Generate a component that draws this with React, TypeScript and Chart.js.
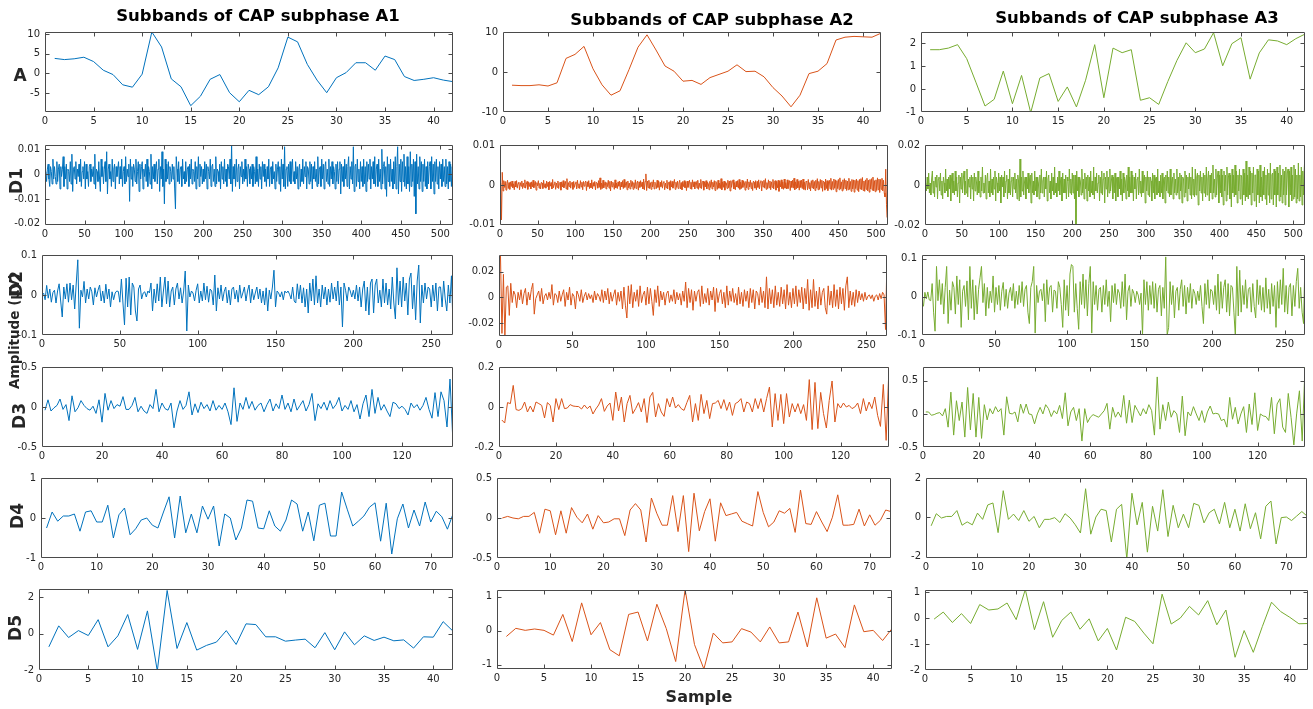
import React, { useEffect, useRef } from "react";
import { Chart, registerables } from "chart.js";
Chart.register(...registerables);

// ---------------- DATA ----------------
const TITLES = ["Subbands of CAP subphase A1", "Subbands of CAP subphase A2", "Subbands of CAP subphase A3"];
const ROW_LABELS = ["A", "D1", "D2", "D3", "D4", "D5"];
const Y_LABEL = "Amplitude (µV)";
const X_LABEL = "Sample";
const LENGTHS = [42, 516, 264, 137, 74, 42];

const X_TICKS_A = [0, 5, 10, 15, 20, 25, 30, 35, 40];
const X_TICKS_D1 = [0, 50, 100, 150, 200, 250, 300, 350, 400, 450, 500];
const X_TICKS_D2 = [0, 50, 100, 150, 200, 250];
const X_TICKS_D3 = [0, 20, 40, 60, 80, 100, 120];
const X_TICKS_D4 = [0, 10, 20, 30, 40, 50, 60, 70];
const X_TICKS_D5 = [0, 5, 10, 15, 20, 25, 30, 35, 40];

// Column 1 (A1)
const A1_A = [3.8,3.5,3.7,4.1,3.0,0.8,-0.3,-2.9,-3.5,-0.2,10.5,6.7,-1.4,-3.4,-8.2,-5.8,-1.5,-0.3,-4.9,-7.2,-4.3,-5.4,-3.4,1.4,9.2,8.0,2.3,-1.7,-4.9,-1.1,0.2,2.7,2.7,0.8,4.4,3.5,-0.8,-1.8,-1.5,-1.1,-1.7,-2.1];
const A1_D1 = [
.001,-.003,.002,.004,-.002,-.005,.003,.001,-.004,.006,-.002,.003,-.001,-.004,.005,-.003,.002,.004,-.006,.003,
-.001,.002,.007,-.005,.003,-.002,.004,-.006,.002,.001,-.003,.005,-.004,.008,-.007,.002,.003,-.002,.005,-.004,
.002,-.001,.004,-.003,.006,-.005,.001,.003,-.002,.005,-.006,.004,-.002,.001,-.005,.003,.004,-.003,.002,-.001,
.003,-.004,.008,-.006,.002,.001,-.003,.005,-.002,-.007,.006,-.001,.003,-.004,.002,.005,-.003,.009,-.008,.002,
.004,-.002,.001,-.005,.006,-.003,.002,.004,-.006,.003,-.001,.002,.005,-.004,.003,-.002,.006,-.005,.001,.003,
-.004,.007,-.003,.002,-.001,.004,-.011,.006,-.002,.003,-.005,.004,.002,-.003,.006,-.004,.001,.005,-.007,.004,
-.002,.003,.005,-.006,.002,-.001,.004,-.003,.006,-.005,.003,.001,-.004,.008,-.006,.003,-.002,.004,-.003,.002,
.005,-.004,.002,.006,-.007,.003,-.002,.009,-.005,.002,-.012,.006,-.003,.004,-.002,.005,-.004,.003,.001,-.003,
.004,-.002,.003,-.006,-.014,.007,.002,-.003,.005,-.004,.002,.003,-.005,.006,-.002,.001,-.004,.005,-.003,.002,
.003,-.005,.004,-.002,.006,-.004,.002,.001,-.003,.005,-.006,.003,-.002,.007,-.005,.004,-.001,.003,-.004,.002,
-.003,.005,-.002,.004,-.006,.003,.001,-.002,.006,-.005,.003,.004,-.003,.002,-.005,.007,-.004,.002,.001,-.003,
.004,-.006,.005,-.002,.003,-.004,.006,-.003,.002,-.005,.004,.003,-.002,.006,-.004,.012,-.007,.003,-.002,.004,
-.005,.006,-.003,.002,.004,-.006,.003,-.001,.005,-.004,.002,-.003,.006,-.002,.003,-.005,.004,.002,-.004,.003,
-.002,.004,-.005,.003,.001,-.004,.007,-.003,.002,-.005,.004,-.002,.003,-.006,.005,-.001,.004,-.003,.002,-.005,
.003,-.002,.006,-.005,.002,.003,-.004,.005,-.002,.001,-.006,.004,-.003,.002,.005,-.004,.003,-.007,.006,-.002,
.004,-.005,.011,-.006,.002,.003,-.005,.004,-.003,.005,-.004,.002,.006,-.003,.001,-.004,.005,-.002,.003,-.006,
.002,.004,-.005,.002,-.003,.006,-.004,.003,-.001,.005,-.006,.003,.002,-.004,.005,-.003,.004,-.006,.003,-.002,
.005,-.003,.002,-.005,.007,-.004,.002,.003,-.005,.006,-.002,.004,-.006,.003,.005,-.003,.002,-.004,.006,-.005,
.003,-.002,.005,-.004,.003,.001,-.006,.004,-.003,.005,-.004,.002,.005,-.008,.004,-.003,.003,-.005,.006,-.002,
.004,-.005,.003,.007,-.006,.003,-.002,.005,-.004,.011,-.007,.003,.004,-.005,.006,-.003,.002,-.006,.005,-.003,
.003,-.005,.006,-.004,.003,-.007,.005,-.003,.004,-.002,.006,-.006,.003,-.002,.005,-.004,.007,-.005,.002,.004,
-.005,.006,-.003,.002,-.006,.01,-.004,.003,.005,-.006,.003,-.009,.007,-.003,.004,-.005,.006,-.003,.002,-.006,
.005,-.004,.007,-.006,.003,.011,-.008,.004,-.003,.006,-.007,.005,-.003,.008,-.005,.003,-.006,.007,-.004,.003,
-.007,.009,-.005,.004,-.003,.006,-.009,.005,-.016,.008,-.004,.003,-.006,.007,-.003,.005,-.007,.004,-.003,.006,
-.005,.003,-.006,.005,-.004,.003,.005,-.006,.007,-.003,.004,-.008,.005,-.003,.006,-.004,.003,-.006,.005,-.002,
.004,-.005,.006,-.003,.003,-.005,.006,-.004,.003,-.006,.005,-.003,.004,-.005,.003,-.001];
const A1_D2 = [
.005,-.012,.024,-.008,.015,-.018,.006,.012,-.02,.01,.028,-.015,-.055,.02,-.01,.028,-.018,.03,-.012,.025,
-.035,.03,.088,-.083,.012,-.005,.034,-.02,.015,-.01,.02,.008,-.025,.018,-.005,.012,.025,-.015,.01,-.02,
.027,-.01,.015,-.03,.008,-.012,.005,.01,.009,-.018,.04,-.02,-.075,.042,-.03,.045,-.05,.03,.02,-.04,
-.065,.015,.025,-.01,.005,.008,-.005,.01,.005,.03,-.04,.015,-.02,.028,-.015,.045,-.03,.01,.045,-.022,
.035,-.03,.01,.02,-.025,.015,.03,-.01,.018,-.02,.01,.06,-.09,.025,-.005,.01,.005,-.015,.012,.028,
-.02,.01,-.015,.03,-.012,.022,-.018,.015,.01,-.025,.05,-.04,.018,-.01,.025,-.015,.008,.02,-.02,.012,
-.025,.015,.02,-.01,.012,-.018,.025,-.008,.005,.02,-.015,.01,.025,-.02,.015,-.012,.005,.02,-.01,.015,
-.02,.01,-.025,.018,-.04,.012,-.01,.02,.062,-.03,.01,.005,-.005,.008,-.012,.01,.005,.01,.002,-.01,
.02,-.015,-.02,.028,-.01,.025,-.02,.018,-.03,.015,-.045,.03,-.015,.04,-.025,.048,-.02,.015,-.03,.025,
-.01,.02,-.025,.015,-.018,.03,-.01,.02,-.015,.035,-.025,.02,-.08,.03,.012,-.015,.02,.01,-.005,.012,
-.01,.025,-.015,.02,-.03,.015,.035,-.04,.02,-.05,.03,.04,-.045,.025,.04,-.02,.012,-.03,.04,-.02,
.03,-.025,.015,-.035,.045,-.02,-.06,.068,-.025,.035,-.03,.045,-.015,.03,-.05,.04,.055,-.035,.025,-.062,
.035,.075,-.07,.025,-.02,.03,-.01,.02,.015,-.03,.025,-.015,.03,-.04,.02,.02,-.03,.035,-.01,-.04,
.025,-.02,.048,-.075];
const A1_D3 = [
-.04,.09,-.05,-.01,.02,.1,-.03,.03,-.17,.14,-.06,-.01,.08,.02,-.02,-.04,.01,-.08,.09,-.19,
.17,-.04,.08,-.02,.03,.01,.13,-.03,-.03,.02,.12,-.06,.01,-.05,-.08,.03,-.02,.22,-.06,.05,
-.02,-.04,.05,-.26,-.05,.08,-.03,.02,.19,-.1,.04,-.07,.06,-.02,.03,-.05,.08,-.04,.02,-.03,
.05,-.06,-.22,.24,-.18,.05,-.03,.12,-.02,.07,-.04,.02,.05,-.06,.03,.1,-.05,.04,-.02,.15,
-.03,.05,-.06,.1,-.04,.02,.08,-.05,.03,.17,-.17,.04,-.02,.06,-.04,.08,-.02,.03,.12,-.05,
.02,-.03,.08,-.06,.03,-.15,.04,.15,-.12,.22,-.08,.12,-.04,.03,-.05,-.12,.06,.04,-.02,.01,
-.03,-.1,.05,-.01,.03,-.04,.02,.12,-.03,-.14,.18,-.12,.19,.08,-.25,.35,-.46];
const A1_D4 = [-0.25,0.15,-0.08,0.05,0.05,0.1,-0.33,0.15,0.18,-0.1,-0.1,0.32,-0.5,0.08,0.25,-0.42,-0.27,-0.05,0.0,-0.18,-0.25,0.15,0.53,-0.5,0.55,-0.37,0.1,-0.37,0.3,-0.03,0.3,-0.7,0.1,0.0,-0.55,-0.25,0.45,0.42,-0.25,-0.27,0.18,-0.2,-0.33,-0.05,0.45,0.35,-0.33,0.15,-0.57,0.32,0.37,-0.45,-0.45,0.65,0.22,-0.2,-0.08,0.05,0.27,0.38,-0.58,0.37,-0.9,-0.02,0.35,-0.25,0.2,-0.2,0.4,-0.1,0.17,0.03,-0.28,0.1];
const A1_D5 = [-0.73,0.42,-0.22,0.16,-0.11,0.76,-0.73,-0.13,1.04,-0.87,1.24,-2.05,2.36,-0.82,0.6,-0.91,-0.65,-0.47,0.16,-0.6,0.53,0.49,-0.18,-0.18,-0.42,-0.36,-0.31,-0.78,0.05,-0.89,0.09,-0.62,-0.13,-0.38,-0.2,-0.4,-0.35,-0.8,-0.18,-0.2,0.65,0.13];

// Column 2 (A2)
const A2_A = [-3.3,-3.4,-3.4,-3.2,-3.5,-2.7,3.4,4.4,6.4,0.8,-3.2,-5.8,-4.7,0.6,6.2,9.3,5.5,1.5,0.2,-2.3,-2.1,-3.1,-1.4,-0.6,0.2,1.8,0.1,0.2,-1.2,-3.9,-6.0,-8.7,-5.8,-0.4,0.2,2.1,8.0,8.7,8.9,8.8,8.7,9.7];
const A2_D1 = [
.0005,-.0088,.0032,-.0015,.0011,-.0006,.0009,-.0013,.0004,.0012,-.0009,.0006,-.0011,.0008,-.0004,.0010,-.0007,.0003,-.0012,.0009,
-.0005,.0011,-.0008,.0004,.0007,-.0012,.0006,-.0003,.0010,-.0009,.0005,-.0006,.0013,-.0008,.0002,.0009,-.0011,.0007,-.0004,.0006,
-.0010,.0008,-.0005,.0012,-.0007,.0003,.0009,-.0013,.0006,-.0002,.0011,-.0008,.0004,-.0010,.0007,.0005,-.0009,.0012,-.0006,.0003,
-.0008,.0010,-.0004,.0007,-.0012,.0009,-.0003,.0006,-.0010,.0014,-.0007,.0002,.0008,-.0011,.0005,-.0006,.0010,-.0009,.0004,.0007,
-.0013,.0008,-.0005,.0011,-.0007,.0003,.0009,-.0010,.0016,-.0012,.0006,-.0004,.0010,-.0008,.0005,.0007,-.0011,.0009,-.0006,.0004,
.0008,-.0010,.0012,-.0007,.0003,-.0009,.0011,-.0005,.0007,-.0012,.0009,-.0003,.0006,.0010,-.0014,.0008,-.0004,.0011,-.0009,.0005,
-.0007,.0013,-.0010,.0006,-.0003,.0009,-.0012,.0007,.0004,-.0008,.0011,-.0006,.0018,-.0011,.0005,-.0009,.0012,-.0007,.0003,.0008,
-.0010,.0006,-.0004,.0012,-.0008,.0009,-.0015,.0010,-.0005,.0007,.0004,-.0011,.0013,-.0007,.0005,-.0009,.0008,-.0003,.0010,-.0012,
.0007,-.0005,.0011,-.0009,.0014,-.0006,.0003,.0008,-.0012,.0010,-.0007,.0005,-.0010,.0012,-.0004,.0009,-.0011,.0006,-.0008,.0013,
-.0009,.0005,.0010,-.0013,.0008,-.0006,.0011,-.0004,.0007,-.0010,.0015,-.0012,.0009,.0028,-.0014,.0010,-.0007,.0012,-.0009,.0006,
-.0011,.0008,-.0005,.0013,-.0010,.0007,.0004,-.0009,.0012,-.0006,.0010,-.0013,.0007,-.0004,.0011,-.0008,.0006,.0009,-.0012,.0005,
-.0007,.0012,-.0010,.0006,.0008,-.0013,.0011,-.0005,.0009,-.0008,.0004,.0014,-.0011,.0007,-.0006,.0010,-.0009,.0005,.0012,-.0010,
.0006,-.0012,.0009,-.0004,.0011,-.0007,.0008,-.0014,.0010,-.0006,.0005,.0012,-.0009,.0007,-.0011,.0013,-.0005,.0008,-.0010,.0006,
.0009,-.0008,.0012,-.0011,.0005,-.0007,.0014,-.0009,.0006,.0010,-.0013,.0008,-.0005,.0011,-.0010,.0007,.0004,-.0012,.0009,-.0006,
.0013,-.0010,.0007,-.0005,.0011,-.0014,.0009,.0006,-.0011,.0012,-.0008,.0005,-.0009,.0016,-.0012,.0008,-.0006,.0010,-.0013,.0007,
.0005,-.0009,.0012,-.0007,.0010,-.0015,.0011,-.0006,.0008,.0013,-.0010,.0006,-.0012,.0009,-.0005,.0011,-.0008,.0014,-.0011,.0007,
-.0009,.0012,-.0006,.0010,.0005,-.0013,.0009,-.0007,.0015,-.0011,.0008,-.0005,.0012,-.0009,.0006,-.0014,.0010,.0007,-.0008,.0011,
-.0012,.0009,-.0006,.0013,-.0010,.0007,.0011,-.0015,.0009,-.0005,.0012,-.0008,.0016,-.0011,.0006,-.0009,.0013,-.0007,.0010,-.0012,
.0008,-.0006,.0014,-.0010,.0007,.0011,-.0013,.0009,-.0007,.0012,-.0016,.0010,-.0005,.0013,-.0009,.0008,-.0011,.0015,-.0008,.0006,
-.0010,.0013,-.0009,.0007,.0011,-.0014,.0010,-.0006,.0012,-.0008,.0017,-.0012,.0008,-.0010,.0014,-.0007,.0009,-.0013,.0011,-.0006,
.0012,-.0009,.0015,-.0011,.0007,-.0013,.0010,.0008,-.0012,.0014,-.0009,.0006,-.0015,.0011,-.0007,.0013,-.0010,.0009,-.0014,.0012,
-.0008,.0016,-.0012,.0009,-.0011,.0014,-.0007,.0012,-.0016,.0010,.0007,-.0013,.0015,-.0009,.0011,-.0014,.0008,.0012,-.0010,.0017,
-.0013,.0009,-.0011,.0015,-.0008,.0013,-.0017,.0011,-.0009,.0014,-.0012,.0018,-.0010,.0008,-.0015,.0013,-.0011,.0016,-.0009,.0012,
-.0014,.0010,-.0012,.0017,-.0011,.0009,-.0016,.0014,-.0010,.0013,-.0018,.0012,-.0009,.0015,-.0013,.0011,-.0017,.0014,-.0010,.0016,
-.0012,.0019,-.0014,.0010,-.0016,.0013,-.0011,.0017,-.0015,.0012,-.0018,.0014,-.0010,.0016,-.0013,.0020,-.0015,.0011,-.0017,.0013,
-.0014,.0018,-.0012,.0015,-.0019,.0014,-.0011,.0017,-.0015,.0012,-.0020,-.0030,.0040,-.0050,-.0082,.0100];
const A2_D2 = [
.033,-.028,.018,-.03,.008,.009,-.014,.011,-.004,.005,.002,-.008,.004,-.002,.006,-.005,.003,.007,-.006,.004,
-.002,.006,.011,-.013,-.001,.002,.005,-.003,.007,-.005,.001,.003,-.002,.004,-.001,.01,-.006,.003,.002,-.004,
.005,-.003,.002,.006,-.007,.004,-.002,.008,-.006,.003,.001,-.009,.005,.002,-.003,.006,-.004,.001,.004,-.002,
.003,-.001,.002,-.004,.005,-.002,.003,.001,-.003,.006,-.004,.005,-.002,.007,-.005,.004,-.003,.002,.006,-.006,
.004,-.003,.005,-.009,.008,-.006,-.016,.009,-.005,.01,-.008,.004,-.003,.006,-.007,.009,-.004,.002,.005,-.006,
.008,-.005,.007,-.003,-.014,.006,-.004,.009,-.007,.005,-.002,.004,-.006,.003,.005,-.004,.002,-.003,.006,-.005,
.004,-.002,.003,-.006,.005,-.003,.012,-.008,.007,-.004,.006,-.01,.005,-.003,.004,.006,-.007,.009,-.005,.003,
-.004,.007,-.006,.005,-.002,.008,-.011,.007,-.004,.003,.006,-.005,.004,-.008,.009,-.006,.005,-.003,.007,-.004,
.003,-.006,.008,-.005,.004,-.007,.006,-.003,.005,-.008,.007,-.004,.006,-.009,.005,.003,-.006,.008,-.004,.005,
-.008,.016,-.009,.007,-.005,.006,-.008,.009,-.006,.004,-.007,.008,-.005,.006,-.009,.01,-.006,.004,-.008,.007,
-.005,.009,-.007,.006,-.004,.008,-.009,.007,-.005,.014,-.01,.006,-.008,.014,-.007,.005,-.009,.008,-.006,.004,
.007,-.008,-.013,.009,-.006,.005,-.008,.01,-.007,.006,-.009,.008,-.005,.007,-.01,.009,.016,-.008,.005,-.006,
.004,-.007,.006,-.004,.005,-.002,.003,-.003,.004,-.002,.001,.002,-.001,.002,-.003,.001,.002,-.002,.003,-.001,
.004,.002,-.025,.032];
const A2_D3 = [
-.065,-.08,.022,.017,.108,-.013,-.017,-.008,.025,-.025,.005,-.025,.025,.017,.008,-.055,.022,.008,-.075,.042,
-.013,.042,-.008,-.005,.012,.005,.003,.002,-.01,.01,-.008,.005,-.035,-.01,.01,.042,-.022,.005,.02,-.067,
.075,-.02,.05,-.075,.017,.058,-.033,-.008,.022,-.025,.042,-.078,.05,.073,-.05,.017,-.025,-.047,.042,0,
.05,-.005,.012,-.008,-.017,.022,.058,-.075,.017,-.067,.063,-.033,.033,-.058,.017,.02,.033,-.008,.037,-.017,
.025,-.042,.017,.025,.042,-.025,.025,.017,-.025,.042,-.008,.042,-.025,.042,.1,-.1,.067,-.067,.063,-.083,
.067,-.05,.017,-.025,.017,-.033,.012,-.067,.137,-.113,.123,-.108,.073,-.033,-.105,.033,.13,-.075,.017,-.005,
.02,0,.008,-.008,0,.02,-.033,.042,-.02,.025,-.008,.05,-.042,-.097,.113,-.167,.2];
const A2_D4 = [0.0,0.02,0.0,-0.01,0.02,0.02,0.07,-0.19,0.11,0.09,-0.21,0.09,-0.19,0.13,0.01,-0.06,0.05,-0.14,0.03,-0.06,-0.05,-0.01,-0.01,-0.22,0.1,0.18,0.1,-0.3,0.25,0.06,-0.09,-0.09,0.28,-0.17,0.28,-0.42,0.31,-0.16,0.08,0.24,-0.29,0.19,0.03,0.05,0.07,-0.04,-0.07,-0.1,0.33,0.07,-0.11,-0.05,0.09,0.06,0.12,-0.18,0.35,-0.07,-0.08,0.08,-0.05,-0.17,0.01,0.29,-0.09,-0.09,-0.08,0.11,-0.1,0.04,-0.09,-0.03,0.1,0.08];
const A2_D5 = [-0.17,0.07,0.01,0.05,0.01,-0.13,0.48,-0.32,0.82,-0.12,0.24,-0.56,-0.74,0.48,0.55,-0.3,0.78,0.06,-0.91,1.21,-0.41,-1.13,-0.07,-0.36,-0.33,0.06,-0.04,-0.33,0.11,-0.36,-0.33,0.55,-0.48,0.97,-0.22,-0.1,-0.5,0.76,-0.03,0.01,-0.29,0.06];

// Column 3 (A3)
const A3_A = [1.71,1.71,1.78,1.93,1.32,0.3,-0.74,-0.45,0.78,-0.64,0.59,-1.03,0.48,0.67,-0.54,0.09,-0.78,0.38,1.93,-0.38,1.78,1.58,1.71,-0.49,-0.38,-0.67,0.33,1.25,2.01,1.58,1.74,2.45,1.01,1.97,2.23,0.43,1.57,2.14,2.09,1.93,2.19,2.39];
const A3_D1 = [
.001,-.003,.004,-.002,.006,-.004,.001,-.005,.003,.007,-.004,.002,-.006,.004,-.001,.005,-.007,.003,.004,-.003,
.006,-.005,.002,-.007,.004,.001,-.004,.008,-.003,.003,-.006,.004,-.002,.005,-.008,.003,.006,-.004,.002,-.005,
.007,-.003,.004,-.006,.001,.005,-.009,.004,-.002,.006,-.004,.003,.007,-.005,.002,-.004,.008,-.006,.003,-.001,
.004,-.007,.005,-.002,.004,-.008,.006,-.003,.004,.001,-.005,.007,-.004,.002,-.006,.004,-.003,.009,-.004,.001,
-.004,.005,-.007,.003,.006,-.004,.002,-.006,.008,-.004,.003,-.005,.004,-.002,.007,-.008,.004,.001,-.004,.006,
-.003,.004,-.009,.005,-.001,.004,-.006,.007,-.004,.002,.005,-.007,.003,-.004,.008,-.005,.002,.004,-.006,.004,
-.002,.006,-.004,.003,-.007,.005,.002,-.008,.013,-.006,.004,-.003,.007,-.005,.001,.004,-.007,.004,-.002,.006,
-.004,.003,.005,-.009,.006,-.004,.002,-.005,.007,-.003,.004,-.006,.004,.001,-.007,.005,-.004,.008,-.004,.002,
.004,-.006,.004,-.002,.007,-.008,.003,.005,-.004,.002,-.007,.006,-.003,.004,-.005,.009,-.004,.001,-.006,.004,
-.003,.007,-.005,.002,.004,-.008,.006,-.004,.003,-.004,.005,-.007,.004,.002,-.006,.008,-.004,.003,-.005,.006,
-.004,.005,-.007,.005,-.02,.007,-.003,.004,-.006,.004,.002,-.005,.008,-.004,.003,-.007,.006,-.002,.004,-.008,
.005,-.003,.004,-.006,.007,-.004,.002,-.005,.009,-.007,.004,-.003,.006,-.004,.001,.005,-.008,.004,-.004,.007,
-.005,.003,.006,-.009,.004,-.002,.007,-.006,.004,-.004,.008,-.003,.002,.005,-.007,.004,-.004,.006,-.008,.003,
.004,-.006,.004,-.002,.007,-.005,.003,-.008,.006,-.004,.004,.002,-.007,.005,-.003,.009,-.006,.004,-.004,.007,
-.004,.005,-.008,.004,-.002,.006,-.007,.003,.004,-.005,.008,-.004,.002,-.006,.007,-.004,.003,.005,-.009,.004,
-.003,.007,-.005,.004,-.006,.004,.002,-.008,.006,-.004,.005,-.007,.003,.004,-.005,.008,-.004,.002,-.006,.005,
-.004,.006,-.007,.003,.004,-.009,.005,-.003,.007,-.004,.004,-.006,.008,-.005,.002,.004,-.007,.006,-.004,.003,
-.005,.008,-.004,.004,-.007,.006,-.003,.005,-.009,.004,.003,-.006,.007,-.004,.005,-.008,.004,-.002,.006,-.005,
.004,-.007,.009,-.005,.003,-.006,.008,-.005,.004,.006,-.01,.005,-.003,.007,-.004,.004,-.008,.006,-.004,.005,
-.006,.009,-.005,.003,.007,-.008,.005,-.004,.006,-.007,.01,-.004,.003,-.006,.008,-.005,.004,.007,-.009,.005,
-.004,.008,-.006,.005,-.01,.007,-.003,.005,-.008,.009,-.005,.004,.006,-.007,.005,-.011,.008,-.004,.005,-.006,
.01,-.005,.007,-.009,.005,-.003,.008,-.007,.005,.004,-.01,.008,-.005,.006,-.008,.012,-.006,.005,-.007,.009,
-.005,.007,-.01,.006,-.004,.009,-.008,.005,.005,-.011,.008,-.005,.007,-.009,.01,-.006,.004,-.008,.007,-.005,
.009,-.007,.005,-.01,.008,-.005,.006,-.009,.011,-.007,.005,.006,-.01,.008,-.005,.007,-.011,.009,-.005,.006,
-.008,.01,-.006,.005,-.009,.008,-.005,.007,-.01,.009,-.005,.006,.008,-.011,.007,-.005,.009,-.008,.005,-.007,
.01,-.006,.008,-.009,.005,-.007,.011,-.008,.005,-.006,.009,-.01,.007,-.005,.008,.016];
const A3_D2 = [
-.025,.012,-.005,.013,-.008,-.01,.035,-.04,-.09,.08,-.01,.045,-.02,.035,-.045,.025,.08,-.07,.018,-.035,
.04,.025,-.045,.055,-.02,.045,-.08,.015,.03,-.025,.042,-.06,.08,-.03,.045,-.06,.03,-.045,.02,.05,
.08,-.015,.035,-.05,.025,-.03,.015,-.015,.055,-.04,.025,-.02,.03,-.035,.015,.038,-.025,.02,-.03,.01,
.025,-.01,.035,-.03,.015,-.02,.03,-.015,.04,-.025,.02,.03,-.04,-.07,.025,.04,.08,-.095,.03,-.015,
.015,.02,-.01,.035,-.065,.045,-.02,.025,.03,-.04,.018,.015,-.03,.04,.025,-.02,-.08,.045,-.035,.03,
-.05,.06,.085,.08,-.04,.035,-.03,-.085,.04,-.02,.06,-.03,.045,-.05,.035,.08,-.095,.04,-.02,.03,
-.035,.02,.025,-.04,.03,-.02,.045,-.025,.015,-.065,.03,-.015,.035,-.02,.02,.01,-.03,.04,-.025,.06,
-.06,.015,.03,-.025,.02,.01,-.015,.015,.005,-.02,.01,-.1,.045,-.02,.04,-.035,.03,-.02,.04,-.03,
.035,-.04,.02,.03,-.05,.025,-.03,.105,-.1,-.08,.04,-.02,.03,-.055,.015,.025,-.035,.02,.045,-.025,
.03,-.045,.025,-.015,.035,-.03,.02,.01,-.02,.015,-.01,.03,-.025,-.07,.035,-.02,.045,-.03,.02,.015,
-.02,.03,-.035,.06,-.045,.04,-.03,.025,.045,-.04,.035,-.05,.03,.025,-.04,-.105,.08,-.05,.07,-.04,
.03,-.02,.045,-.03,.02,.025,-.04,.035,-.025,-.055,.045,-.02,.03,-.035,.025,-.04,.05,-.03,.02,-.045,
.035,-.025,.03,-.08,.04,-.03,.045,-.02,.075,-.04,.03,-.045,.025,.035,-.05,.03,-.025,.04,.075,-.03,
.025,-.04,-.07,.1];
const A3_D3 = [
.03,.03,-.02,-.01,.01,.02,-.03,.08,-.2,.33,-.32,.2,-.1,.18,-.35,.4,-.24,.31,-.35,.25,
-.37,.14,-.09,.08,0,.11,.03,.08,-.32,.26,.01,0,.03,-.12,.15,.01,.15,0,-.01,-.15,
0,.1,0,.14,.08,-.04,.05,0,.13,-.07,.32,-.18,.03,.1,-.1,.08,-.41,.08,-.13,-.05,
-.01,-.03,-.05,0,.05,.16,-.23,.1,-.05,.03,-.05,.28,-.14,.21,-.13,.13,.05,-.03,.08,0,
.14,.05,-.32,.56,-.23,.14,-.1,.18,-.05,.05,0,-.28,.27,-.33,.03,-.03,.11,0,-.1,.05,
-.13,.03,.12,0,.01,0,-.1,-.08,-.2,.25,-.08,.1,-.15,0,.11,-.28,.15,-.16,.32,-.25,
0,-.03,-.04,-.1,.25,-.3,.15,.23,-.2,-.28,.31,-.05,-.47,0,.35,-.41,.71];
const A3_D4 = [-0.45,0.17,-0.05,0.03,0.03,0.33,-0.42,-0.25,-0.4,0.2,-0.12,0.62,0.72,-0.8,1.35,-0.12,0.15,-0.18,0.33,-0.22,0.03,-0.55,-0.12,-0.12,-0.03,-0.28,0.17,-0.05,-0.4,-0.82,1.45,-0.88,0.0,0.4,0.33,-1.28,0.4,0.65,-2.15,1.22,-0.4,0.75,-1.8,0.55,-0.72,1.4,-1.0,0.6,-0.55,0.15,-0.55,0.7,0.6,-0.3,0.22,0.4,-0.35,0.75,-0.55,0.4,-0.72,0.68,-0.6,0.22,-1.12,0.55,0.82,-1.38,-0.03,0.0,-0.18,0.05,0.28,0.05];
const A3_D5 = [-0.04,0.23,-0.17,0.17,-0.21,0.52,0.31,0.35,0.58,-0.06,1.1,-0.45,0.63,-0.74,-0.09,0.23,-0.43,-0.03,-0.88,-0.4,-1.23,0.03,-0.13,-0.58,-0.99,0.92,-0.23,0.0,0.45,0.12,0.67,-0.26,0.31,-1.51,-0.48,-1.32,-0.32,0.61,0.25,0.03,-0.22,-0.21];

// Y ticks / ranges
const Y_TICKS_1 = [[-5, 0, 5, 10], [-0.02, -0.01, 0, 0.01], [-0.1, 0, 0.1], [-0.5, 0, 0.5], [-1, 0, 1], [-2, 0, 2]];
const Y_TICKS_2 = [[-10, 0, 10], [-0.01, 0, 0.01], [-0.02, 0, 0.02], [-0.2, 0, 0.2], [-0.5, 0, 0.5], [-1, 0, 1]];
const Y_TICKS_3 = [[-1, 0, 1, 2], [-0.02, 0, 0.02], [-0.1, 0, 0.1], [-0.5, 0, 0.5], [-2, 0, 2], [-2, -1, 0, 1]];
const Y_RANGE_1 = [[-9.8, 10.5], [-0.0205, 0.0117], [-0.1, 0.1], [-0.5, 0.5], [-1, 1], [-2, 2.44]];
const Y_RANGE_2 = [[-10, 10], [-0.0101, 0.0101], [-0.030, 0.033], [-0.2, 0.2], [-0.5, 0.5], [-1.13, 1.2]];
const Y_RANGE_3 = [[-1, 2.48], [-0.02, 0.02], [-0.1, 0.11], [-0.5, 0.71], [-2.1, 2], [-2, 1.08]];

// ---------------- LAYOUT / STYLE ----------------
const COLORS = ["#0072BD", "#D95319", "#77AC30"];
const X_TICKS = [X_TICKS_A, X_TICKS_D1, X_TICKS_D2, X_TICKS_D3, X_TICKS_D4, X_TICKS_D5];
const SERIES = [
  [A1_A, A1_D1, A1_D2, A1_D3, A1_D4, A1_D5],
  [A2_A, A2_D1, A2_D2, A2_D3, A2_D4, A2_D5],
  [A3_A, A3_D1, A3_D2, A3_D3, A3_D4, A3_D5],
];
const Y_TICKS = [Y_TICKS_1, Y_TICKS_2, Y_TICKS_3];
const Y_RANGE = [Y_RANGE_1, Y_RANGE_2, Y_RANGE_3];
// plot-area rectangles [left, top, right, bottom]
const RECTS = [
  [[45, 32, 453, 112], [45, 145, 453, 225], [42, 255, 453, 335], [42, 367, 453, 447], [41, 478, 453, 558], [39, 589, 453, 670]],
  [[503, 32, 881, 112], [500, 145, 888, 225], [499, 255, 887, 336], [499, 367, 889, 447], [497, 478, 891, 558], [497, 590, 892, 669]],
  [[921, 32, 1305, 112], [925, 145, 1305, 225], [922, 255, 1305, 335], [923, 367, 1305, 447], [926, 478, 1307, 558], [925, 590, 1308, 670]],
];

const PADL = 44, PADR = 8, PADT = 8, PADB = 20;
const FONT = "DejaVu Sans";
const TEXT = "#262626";
const AXIS = "#4a4a4a";

const boxPlugin = {
  id: "matlabBox",
  afterDraw(chart: any) {
    const { ctx, chartArea } = chart;
    const xs = chart.scales.x, ys = chart.scales.y;
    const L = Math.round(chartArea.left) + 0.5;
    const R = Math.round(chartArea.right) - 0.5;
    const T = Math.round(chartArea.top) + 0.5;
    const B = Math.round(chartArea.bottom) - 0.5;
    const tl = 4;
    ctx.save();
    ctx.strokeStyle = AXIS;
    ctx.lineWidth = 1;
    ctx.beginPath();
    ctx.rect(L, T, R - L, B - T);
    for (const t of xs.ticks) {
      const px = Math.round(xs.getPixelForValue(t.value)) + 0.5;
      if (px <= L + 1 || px >= R - 1) continue;
      ctx.moveTo(px, B); ctx.lineTo(px, B - tl);
      ctx.moveTo(px, T); ctx.lineTo(px, T + tl);
    }
    for (const t of ys.ticks) {
      const py = Math.round(ys.getPixelForValue(t.value)) + 0.5;
      if (py <= T + 1 || py >= B - 1) continue;
      ctx.moveTo(L, py); ctx.lineTo(L + tl, py);
      ctx.moveTo(R, py); ctx.lineTo(R - tl, py);
    }
    ctx.stroke();
    ctx.restore();
  },
};

type PanelProps = { col: number; row: number };

function Panel({ col, row }: PanelProps) {
  const ref = useRef<HTMLCanvasElement>(null);
  const [l, t, r, b] = RECTS[col][row];
  const W = r - l + PADL + PADR;
  const H = b - t + PADT + PADB;
  useEffect(() => {
    const values = SERIES[col][row];
    const n = LENGTHS[row];
    const xTicks = X_TICKS[row];
    const yTicks = Y_TICKS[col][row];
    const [yMin, yMax] = Y_RANGE[col][row];
    const chart = new Chart(ref.current as HTMLCanvasElement, {
      type: "line",
      data: {
        datasets: [
          {
            data: values.map((v, i) => ({ x: i + 1, y: v })),
            borderColor: COLORS[col],
            borderWidth: 1,
            pointRadius: 0,
            fill: false,
            tension: 0,
          },
        ],
      },
      options: {
        animation: false,
        responsive: false,
        maintainAspectRatio: false,
        devicePixelRatio: 1,
        events: [],
        layout: { padding: { top: PADT, right: PADR, left: 0, bottom: 0 } },
        plugins: { legend: { display: false }, tooltip: { enabled: false }, title: { display: false } },
        scales: {
          x: {
            type: "linear",
            min: 0,
            max: n,
            grid: { display: false, drawTicks: false },
            border: { display: false },
            ticks: {
              font: { family: FONT, size: 10 },
              color: TEXT,
              padding: 3,
              maxRotation: 0,
              autoSkip: false,
              callback: (v: any) => String(v),
            },
            afterBuildTicks: (s: any) => {
              s.ticks = xTicks.map((v) => ({ value: v }));
            },
            afterFit: (s: any) => {
              s.height = PADB;
              s.paddingLeft = 0;
              s.paddingRight = 0;
            },
          },
          y: {
            type: "linear",
            min: yMin,
            max: yMax,
            grid: { display: false, drawTicks: false },
            border: { display: false },
            ticks: {
              font: { family: FONT, size: 10 },
              color: TEXT,
              padding: 5,
              autoSkip: false,
              callback: (v: any) => String(v),
            },
            afterBuildTicks: (s: any) => {
              s.ticks = yTicks.map((v) => ({ value: v }));
            },
            afterFit: (s: any) => {
              s.width = PADL;
              s.paddingTop = 0;
              s.paddingBottom = 0;
            },
          },
        },
      } as any,
      plugins: [boxPlugin],
    });
    return () => chart.destroy();
  }, [col, row]);
  return (
    <canvas
      ref={ref}
      width={W}
      height={H}
      style={{ position: "absolute", left: l - PADL, top: t - PADT, width: W, height: H }}
    />
  );
}

const TITLE_POS = [
  { cx: 258, top: 8 },
  { cx: 712, top: 12 },
  { cx: 1137, top: 9.7 },
];
const ROW_LABEL_POS = [
  { cx: 20, cy: 75, rotate: false },
  { cx: 16, cy: 181, rotate: true },
  { cx: 16, cy: 284, rotate: true },
  { cx: 19, cy: 416, rotate: true },
  { cx: 16.5, cy: 516, rotate: true },
  { cx: 14.5, cy: 628, rotate: true },
];

export default function App() {
  const panels = [];
  for (let c = 0; c < 3; c++) for (let r = 0; r < 6; r++) panels.push(<Panel key={`${c}-${r}`} col={c} row={r} />);
  return (
    <div
      style={{
        position: "absolute",
        left: 0,
        top: 0,
        width: 1313,
        height: 709,
        background: "#ffffff",
        overflow: "hidden",
        fontFamily: FONT,
        color: "#000",
      }}
    >
      {panels}
      {TITLES.map((tt, i) => (
        <div
          key={tt}
          style={{
            position: "absolute",
            left: TITLE_POS[i].cx - 200,
            top: TITLE_POS[i].top,
            width: 400,
            textAlign: "center",
            fontWeight: "bold",
            fontSize: 16.5,
            lineHeight: "16.5px",
            whiteSpace: "nowrap",
          }}
        >
          {tt}
        </div>
      ))}
      {ROW_LABELS.map((lab, i) => (
        <div
          key={lab}
          style={{
            position: "absolute",
            left: ROW_LABEL_POS[i].cx,
            top: ROW_LABEL_POS[i].cy,
            transform: `translate(-50%, -50%)${ROW_LABEL_POS[i].rotate ? " rotate(-90deg)" : ""}`,
            fontWeight: "bold",
            fontSize: 17,
            lineHeight: "17px",
            whiteSpace: "nowrap",
            color: "#262626",
          }}
        >
          {lab}
        </div>
      ))}
      <div
        style={{
          position: "absolute",
          left: 15,
          top: 331,
          transform: "translate(-50%, -50%) rotate(-90deg)",
          fontWeight: "bold",
          fontSize: 13.5,
          lineHeight: "13.5px",
          whiteSpace: "nowrap",
          color: "#262626",
        }}
      >
        {Y_LABEL}
      </div>
      <div
        style={{
          position: "absolute",
          left: 699 - 100,
          top: 688.5,
          width: 200,
          textAlign: "center",
          fontWeight: "bold",
          fontSize: 16,
          lineHeight: "16px",
          whiteSpace: "nowrap",
          color: "#262626",
        }}
      >
        {X_LABEL}
      </div>
    </div>
  );
}
